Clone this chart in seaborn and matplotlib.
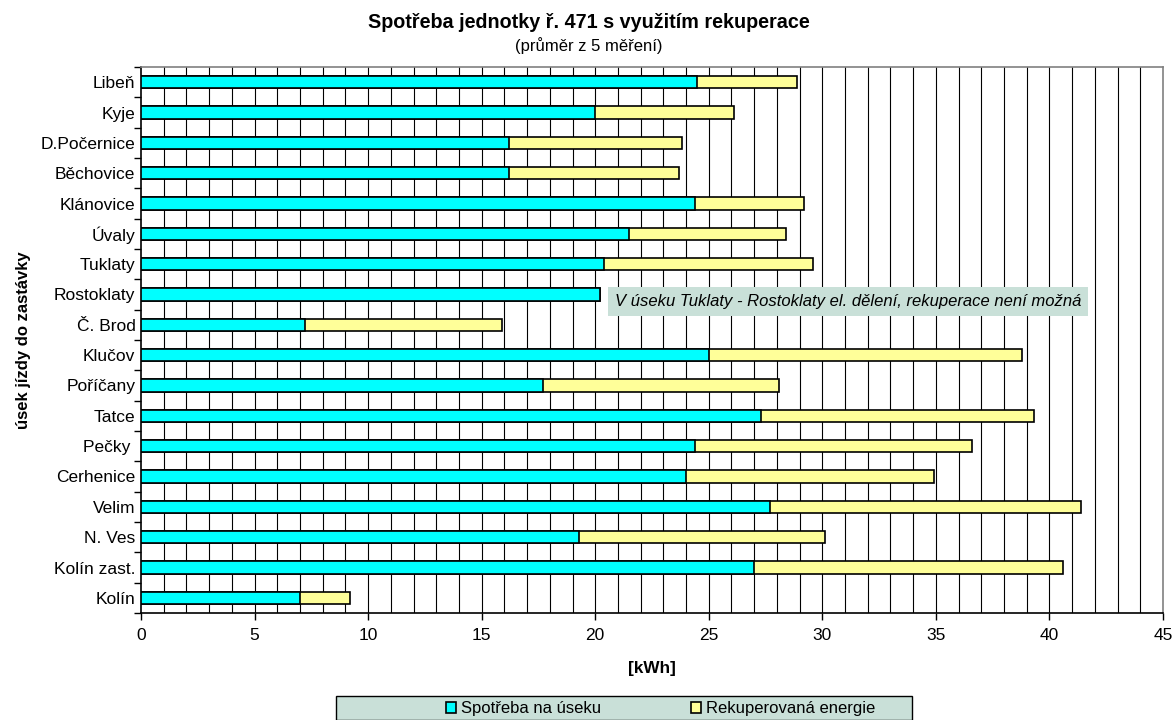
import numpy as np
import pandas as pd
import matplotlib
matplotlib.use("Agg")
import matplotlib.pyplot as plt
from matplotlib.patches import Patch, Rectangle
import seaborn as sns

# Úseky jízdy (cílová zastávka) a naměřené hodnoty [kWh]
stations = ["Libeň", "Kyje", "D.Počernice", "Běchovice", "Klánovice", "Úvaly",
            "Tuklaty", "Rostoklaty", "Č. Brod", "Klučov", "Poříčany", "Tatce",
            "Pečky ", "Cerhenice", "Velim", "N. Ves", "Kolín zast.", "Kolín"]
spotreba = [24.5, 20.0, 16.2, 16.2, 24.4, 21.5, 20.4, 20.2, 7.2, 25.0,
            17.7, 27.3, 24.4, 24.0, 27.7, 19.3, 27.0, 7.0]
rekuperace = [4.4, 6.1, 7.6, 7.5, 4.8, 6.9, 9.2, 0.0, 8.7, 13.8,
              10.4, 12.0, 12.2, 10.9, 13.7, 10.8, 13.6, 2.2]
x_ticks = [0, 5, 10, 15, 20, 25, 30, 35, 40, 45]

title = "Spotřeba jednotky ř. 471 s využitím rekuperace"
subtitle = "(průměr z 5 měření)"
note = "V úseku Tuklaty - Rostoklaty el. dělení, rekuperace není možná"
legend_labels = ["Spotřeba na úseku", "Rekuperovaná energie"]

df = pd.DataFrame({"usek": stations, "spotreba": spotreba, "rekuperace": rekuperace})
df["celkem"] = df["spotreba"] + df["rekuperace"]

sns.set_style("white")
plt.rcParams["font.family"] = ["Liberation Sans", "DejaVu Sans"]
plt.rcParams.update({"text.color": "black", "axes.labelcolor": "black",
                     "xtick.color": "black", "ytick.color": "black"})

CYAN = "#00FFFF"
YELLOW = "#FFFF99"
PANEL = "#C9E0D8"

W, H = 1173, 720
fig = plt.figure(figsize=(W / 100, H / 100), dpi=100)
ax = fig.add_axes([141 / W, 1 - 613 / H, (1163 - 141) / W, (613 - 67) / H])

# vertikální mřížka po 1 kWh
for v in np.arange(1, 45, 1):
    ax.axvline(v, color="black", lw=0.8, zorder=0)

# skládané pruhy: celková hodnota (žlutě) a spotřeba přes ni (azurově)
sns.barplot(data=df, y="usek", x="celkem", orient="h", color=YELLOW,
            saturation=1, width=0.4, edgecolor="black", linewidth=1.2, ax=ax, zorder=2)
sns.barplot(data=df, y="usek", x="spotreba", orient="h", color=CYAN,
            saturation=1, width=0.4, edgecolor="black", linewidth=1.2, ax=ax, zorder=3)

n = len(stations)
ax.set_xlim(0, 45)
ax.set_ylim(n - 0.5, -0.5)
ax.set_xticks(x_ticks)
ax.set_xticklabels([str(t) for t in x_ticks], fontsize=12.5)
ax.set_yticks(range(n))
ax.set_yticklabels(stations, fontsize=12.5)
ax.set_yticks(np.arange(-0.5, n, 1), minor=True)
ax.tick_params(axis="y", which="major", length=0, pad=4)
ax.tick_params(axis="y", which="minor", length=5, width=1, color="black", left=True)
ax.tick_params(axis="x", which="major", length=5, width=1, color="black", bottom=True, pad=6)

ax.set_xlabel("[kWh]", fontsize=12.3, fontweight="bold", labelpad=13)
ax.set_ylabel("úsek jízdy do zastávky", fontsize=12, fontweight="bold", labelpad=7)

for side in ["top", "right"]:
    ax.spines[side].set_color("#808080")
    ax.spines[side].set_linewidth(1.2)
for side in ["left", "bottom"]:
    ax.spines[side].set_color("black")
    ax.spines[side].set_linewidth(1.2)

# poznámka k úseku bez rekuperace
ax.text(20.85, 7.23, note, fontsize=12, style="italic", va="center", ha="left",
        zorder=5, bbox=dict(boxstyle="square,pad=0.42", facecolor=PANEL, edgecolor="none"))

# nadpis
fig.text(589 / W, 1 - 22 / H, title, ha="center", va="center", fontsize=14.2, fontweight="bold")
fig.text(589 / W, 1 - 46 / H, subtitle, ha="center", va="center", fontsize=12)

# legenda ve vlastním rámečku
fig.patches.append(Rectangle((336 / W, 0), (912 - 336) / W, (720 - 696) / H,
                             transform=fig.transFigure, facecolor=PANEL,
                             edgecolor="black", linewidth=1, zorder=0))
handles = [Patch(facecolor=CYAN, edgecolor="black", linewidth=1.2),
           Patch(facecolor=YELLOW, edgecolor="black", linewidth=1.2)]
fig.legend(handles, legend_labels, loc="center", bbox_to_anchor=(661 / W, 1 - 709 / H),
           ncol=2, frameon=False, fontsize=12, handlelength=0.6, handleheight=0.6,
           handletextpad=0.3, columnspacing=5.4, borderpad=0)

fig.savefig("out.png", dpi=100)
